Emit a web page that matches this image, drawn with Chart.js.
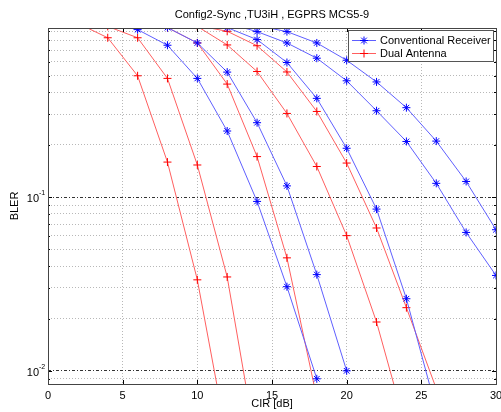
<!DOCTYPE html>
<html>
<head>
<meta charset="utf-8">
<script src="https://cdn.jsdelivr.net/npm/chart.js@4.4.0/dist/chart.umd.min.js"></script>
<style>
    html, body { margin: 0; padding: 0; background: #fff; }
    #grafico { display: block; }
</style>
</head>
<body>
<canvas id="grafico" width="501" height="412"></canvas>
<script>
// CIR [dB] en el eje x
const cir = [0, 2, 4, 6, 8, 10, 12, 14, 16, 18, 20, 22, 24, 26, 28, 30];

// Conventional Receiver (azul), MCS5..MCS9
const convMcs5 = [null, null, 1.0, 0.92, 0.748, 0.482, 0.240, 0.0944, 0.0305, 0.0090, null, null, null, null, null, null];
const convMcs6 = [null, null, null, 1.0, 0.945, 0.771, 0.524, 0.268, 0.116, 0.0358, 0.0100, null, null, null, null, null];
const convMcs7 = [null, null, null, null, null, 1.0, 0.945, 0.806, 0.595, 0.370, 0.191, 0.0853, 0.026, 0.006, null, null];
const convMcs8 = [null, null, null, null, null, null, 1.0, 0.896, 0.771, 0.630, 0.467, 0.314, 0.209, 0.120, 0.0626, 0.0354];
const convMcs9 = [null, null, null, null, null, null, 1.0, 0.97, 0.896, 0.771, 0.613, 0.460, 0.327, 0.210, 0.123, 0.0649];

// Dual Antenna (rojo), MCS5..MCS9
const dualMcs5 = [null, 1.0, 0.826, 0.499, 0.159, 0.0334, 0.004, null, null, null, null, null, null, null, null, null];
const dualMcs6 = [null, 1.0, 0.96, 0.826, 0.482, 0.153, 0.0347, 0.0035, null, null, null, null, null, null, null, null];
const dualMcs7 = [null, null, null, 1.0, 0.945, 0.771, 0.447, 0.171, 0.0447, 0.007, null, null, null, null, null, null];
const dualMcs8 = [null, null, null, null, 1.0, 0.96, 0.751, 0.528, 0.303, 0.150, 0.060, 0.0191, 0.0046, null, null, null];
const dualMcs9 = [null, null, null, null, 1.0, 0.97, 0.90, 0.743, 0.525, 0.311, 0.157, 0.0664, 0.0231, 0.0079, null, null];

// lineas de la rejilla en y (escala log) y etiquetas de las decadas
const yRejilla = [0.009, 0.01, 0.02, 0.03, 0.04, 0.05, 0.06, 0.07, 0.08, 0.09,
                  0.1, 0.2, 0.3, 0.4, 0.5, 0.6, 0.7, 0.8, 0.9];
const yDecadas = [0.01, 0.1];
const yExponentes = ['-2', '-1'];

const titulo = 'Config2-Sync ,TU3iH , EGPRS MCS5-9';
const nombres = ['Conventional Receiver', 'Dual Antenna'];

// linea algo mas clara que el marcador, como en la imagen original
const AZUL = 'rgb(0,0,255)';
const AZUL_LINEA = 'rgb(95,95,255)';
const ROJO = 'rgb(255,0,0)';
const ROJO_LINEA = 'rgb(255,95,95)';
const FUENTE = '"Liberation Sans", Arial, sans-serif';

function puntos(valores) {
    return cir.map((x, i) => ({ x: x, y: valores[i] })).filter(p => p.y !== null);
}

function serie(valores, linea, color, estilo, etiqueta) {
    return {
        label: etiqueta,
        data: puntos(valores),
        borderColor: linea,
        backgroundColor: color,
        borderWidth: 1,
        pointStyle: estilo,
        pointRadius: 4,
        pointBorderWidth: 1,
        pointBorderColor: color,
        fill: false,
        tension: 0,
        clip: 0
    };
}

// Dibuja caja, marcas, etiquetas, leyenda y titulo al estilo MATLAB
const marcoMatlab = {
    id: 'marcoMatlab',
    afterDraw(chart) {
        const ctx = chart.ctx;
        const area = chart.chartArea;
        const xs = chart.scales.x;
        const ys = chart.scales.y;
        ctx.save();

        // marcas hacia dentro
        ctx.strokeStyle = '#000';
        ctx.lineWidth = 1;
        ctx.beginPath();
        for (let v = 0; v <= 30; v += 5) {
            const px = Math.round(xs.getPixelForValue(v)) + 0.5;
            ctx.moveTo(px, area.bottom); ctx.lineTo(px, area.bottom - 4);
            ctx.moveTo(px, area.top); ctx.lineTo(px, area.top + 4);
        }
        yRejilla.forEach(v => {
            const py = Math.round(ys.getPixelForValue(v)) + 0.5;
            const largo = yDecadas.includes(v) ? 4 : 2;
            ctx.moveTo(area.left, py); ctx.lineTo(area.left + largo, py);
            ctx.moveTo(area.right, py); ctx.lineTo(area.right - largo, py);
        });
        ctx.stroke();

        // caja de los ejes
        ctx.strokeStyle = '#444';
        ctx.strokeRect(Math.round(area.left) + 0.5, Math.round(area.top) + 0.5,
            Math.round(area.right - area.left), Math.round(area.bottom - area.top));

        // etiquetas 10^-n
        ctx.fillStyle = '#000';
        ctx.textBaseline = 'middle';
        yDecadas.forEach((v, i) => {
            const py = ys.getPixelForValue(v);
            ctx.font = '11px ' + FUENTE;
            ctx.textAlign = 'right';
            ctx.fillText('10', 39, py + 2);
            ctx.font = '7px ' + FUENTE;
            ctx.textAlign = 'left';
            ctx.fillText(yExponentes[i], 39, py - 4);
        });

        // titulo y nombres de ejes
        const centro = (area.left + area.right) / 2;
        ctx.font = '11px ' + FUENTE;
        ctx.textAlign = 'center';
        ctx.fillText(titulo, centro, 15);
        ctx.fillText('CIR [dB]', centro, 404);
        ctx.save();
        ctx.translate(15, (area.top + area.bottom) / 2);
        ctx.rotate(-Math.PI / 2);
        ctx.fillText('BLER', 0, 0);
        ctx.restore();

        // leyenda
        const lx = 348.5, ly = 30.5, lw = 145, lh = 31;
        ctx.fillStyle = '#fff';
        ctx.fillRect(lx, ly, lw, lh);
        ctx.strokeStyle = '#555';
        ctx.strokeRect(lx, ly, lw, lh);
        const filas = [
            { linea: AZUL_LINEA, color: AZUL, estilo: 'star', y: 40.5 },
            { linea: ROJO_LINEA, color: ROJO, estilo: 'cross', y: 53.5 }
        ];
        filas.forEach((f, i) => {
            ctx.strokeStyle = f.linea;
            ctx.lineWidth = 1;
            ctx.beginPath();
            ctx.moveTo(352, f.y); ctx.lineTo(376, f.y);
            ctx.stroke();
            ctx.strokeStyle = f.color;
            Chart.helpers.drawPoint(ctx, { pointStyle: f.estilo, radius: 4, borderWidth: 1, rotation: 0 }, 364, f.y);
            ctx.fillStyle = '#000';
            ctx.font = '11px ' + FUENTE;
            ctx.textAlign = 'left';
            ctx.textBaseline = 'middle';
            ctx.fillText(nombres[i], 380, f.y);
        });

        ctx.restore();
    }
};

const ctx = document.getElementById('grafico').getContext('2d');
new Chart(ctx, {
    type: 'line',
    data: {
        datasets: [
            serie(convMcs5, AZUL_LINEA, AZUL, 'star', nombres[0]),
            serie(convMcs6, AZUL_LINEA, AZUL, 'star', nombres[0]),
            serie(convMcs7, AZUL_LINEA, AZUL, 'star', nombres[0]),
            serie(convMcs8, AZUL_LINEA, AZUL, 'star', nombres[0]),
            serie(convMcs9, AZUL_LINEA, AZUL, 'star', nombres[0]),
            serie(dualMcs5, ROJO_LINEA, ROJO, 'cross', nombres[1]),
            serie(dualMcs6, ROJO_LINEA, ROJO, 'cross', nombres[1]),
            serie(dualMcs7, ROJO_LINEA, ROJO, 'cross', nombres[1]),
            serie(dualMcs8, ROJO_LINEA, ROJO, 'cross', nombres[1]),
            serie(dualMcs9, ROJO_LINEA, ROJO, 'cross', nombres[1])
        ]
    },
    options: {
        responsive: false,
        animation: false,
        layout: { padding: { top: 28, right: 3, left: 0, bottom: 0 } },
        plugins: {
            legend: { display: false },
            title: { display: false },
            tooltip: { enabled: false }
        },
        scales: {
            x: {
                type: 'linear',
                min: 0,
                max: 30,
                ticks: {
                    stepSize: 5,
                    autoSkip: false,
                    maxRotation: 0,
                    padding: 5,
                    color: '#000',
                    font: { family: FUENTE, size: 11 }
                },
                grid: {
                    color: '#b8b8b8',
                    lineWidth: 1,
                    drawTicks: false
                },
                border: { display: false, dash: [1, 2] },
                afterFit(scale) {
                    scale.height = 28;
                    scale.paddingLeft = 0;
                    scale.paddingRight = 0;
                }
            },
            y: {
                type: 'logarithmic',
                min: 0.0084,
                max: 0.94,
                afterBuildTicks(scale) {
                    scale.ticks = yRejilla.map(v => ({ value: v }));
                },
                ticks: { display: false },
                grid: {
                    color: c => yDecadas.includes(c.tick && c.tick.value) ? '#333' : '#b8b8b8',
                    lineWidth: 1,
                    drawTicks: false
                },
                border: {
                    display: false,
                    dash: c => yDecadas.includes(c.tick && c.tick.value) ? [3, 2, 1, 2] : [1, 2]
                },
                afterFit(scale) {
                    scale.width = 48;
                    scale.paddingTop = 0;
                    scale.paddingBottom = 0;
                }
            }
        }
    },
    plugins: [marcoMatlab]
});
</script>
</body>
</html>
